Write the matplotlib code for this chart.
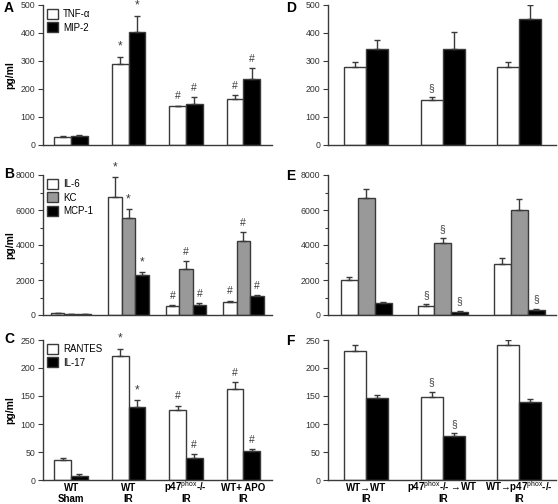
import matplotlib
matplotlib.use('Agg')
import matplotlib.pyplot as plt
import numpy as np
from matplotlib.ticker import MultipleLocator

plt.rcParams['font.family'] = ['Liberation Sans', 'DejaVu Sans']
plt.rcParams['mathtext.fontset'] = 'custom'
plt.rcParams['mathtext.rm'] = 'Liberation Sans'
plt.rcParams['mathtext.it'] = 'Liberation Sans'
plt.rcParams['mathtext.bf'] = 'Liberation Sans:bold'
plt.rcParams['mathtext.default'] = 'rm'

# ---- data (left column: 4 groups) ----
groups_left = ['WT\nSham', 'WT\nIR', 'p47$^{phox}$-/-\nIR', 'WT+ APO\nIR']
groups_right = ['WT\u2192WT\nIR', 'p47$^{phox}$-/- \u2192WT\nIR', 'WT\u2192p47$^{phox}$-/-\nIR']

# panel A
a_tnf = [29, 288, 138, 164]
a_tnf_sem = [4, 27, 3, 13]
a_tnf_mark = ['', '*', '#', '#']
a_mip2 = [33, 405, 145, 235]
a_mip2_sem = [4, 56, 26, 39]
a_mip2_mark = ['', '*', '#', '#']

# panel B
b_il6 = [90, 6720, 530, 760]
b_il6_sem = [10, 1140, 60, 60]
b_il6_mark = ['', '*', '#', '#']
b_kc = [60, 5560, 2610, 4230]
b_kc_sem = [8, 480, 490, 490]
b_kc_mark = ['', '*', '#', '#']
b_mcp1 = [30, 2290, 590, 1070]
b_mcp1_sem = [5, 150, 75, 55]
b_mcp1_mark = ['', '*', '#', '#']

# panel C
c_rantes = [35, 222, 125, 162]
c_rantes_sem = [4, 12, 8, 13]
c_rantes_mark = ['', '*', '#', '#']
c_il17 = [8, 131, 39, 52]
c_il17_sem = [2, 11, 7, 3]
c_il17_mark = ['', '*', '#', '#']

# panel D
d_tnf = [278, 162, 278]
d_tnf_sem = [18, 10, 18]
d_tnf_mark = ['', '\u00a7', '']
d_mip2 = [342, 342, 449]
d_mip2_sem = [33, 60, 50]
d_mip2_mark = ['', '', '']

# panel E
e_il6 = [1990, 530, 2930]
e_il6_sem = [190, 75, 320]
e_il6_mark = ['', '\u00a7', '']
e_kc = [6710, 4100, 6010]
e_kc_sem = [510, 290, 610]
e_kc_mark = ['', '\u00a7', '']
e_mcp1 = [660, 190, 300]
e_mcp1_sem = [60, 55, 55]
e_mcp1_mark = ['', '\u00a7', '\u00a7']

# panel F
f_rantes = [231, 149, 241]
f_rantes_sem = [10, 9, 9]
f_rantes_mark = ['', '\u00a7', '']
f_il17 = [146, 78, 140]
f_il17_sem = [6, 6, 4]
f_il17_mark = ['', '\u00a7', '']

DARK = '#3a3a3a'
W, H = 558, 504


def make_ax(fig, x0, x1, y0, y1):
    return fig.add_axes([x0 / W, 1 - y1 / H, (x1 - x0) / W, (y1 - y0) / H])


def draw(ax, series, width, ymax, major, minor, xlim, labels=None, ylabel=True,
         legend=None):
    n = len(series)
    ngroups = len(series[0][0])
    x = np.arange(ngroups)
    handles = []
    for i, (vals, sem, marks, color) in enumerate(series):
        pos = x + (i - (n - 1) / 2) * width
        b = ax.bar(pos, vals, width, color=color, edgecolor=DARK, linewidth=1.0,
                   yerr=[np.zeros(ngroups), sem], capsize=2.5,
                   error_kw=dict(ecolor=DARK, elinewidth=1.0, capthick=1.0),
                   zorder=2)
        handles.append(b)
        for xi, v, s, m in zip(pos, vals, sem, marks):
            if m:
                fs = 8.5 if m == '*' else 7.5
                ax.annotate(m, (xi, v + s), xytext=(0, 3), textcoords='offset points',
                            ha='center', va='bottom', fontsize=fs, color=DARK)
    ax.set_ylim(0, ymax)
    ax.set_xlim(*xlim)
    ax.yaxis.set_major_locator(MultipleLocator(major))
    if minor:
        ax.yaxis.set_minor_locator(MultipleLocator(minor))
    for s in ['top', 'right']:
        ax.spines[s].set_visible(False)
    for s in ['left', 'bottom']:
        ax.spines[s].set_color(DARK)
        ax.spines[s].set_linewidth(1.0)
    ax.tick_params(axis='y', which='major', length=3.5, width=0.8, color=DARK,
                   labelsize=6.3, labelcolor='#333333', pad=2)
    ax.tick_params(axis='y', which='minor', length=2, width=0.8, color=DARK)
    ax.set_xticks([])
    if labels is not None:
        # two-line group labels, each line placed on its own baseline
        tr = ax.get_xaxis_transform()
        for xi, lab in zip(x, labels):
            top, bottom = lab.split('\n')
            ax.text(xi, -11 / 140, top, transform=tr, ha='center', va='baseline',
                    fontsize=7, fontweight='bold')
            ax.text(xi, -22.5 / 140, bottom, transform=tr, ha='center', va='baseline',
                    fontsize=7, fontweight='bold')
    if ylabel:
        ax.set_ylabel('pg/ml', fontsize=7.5, fontweight='bold')
        ax.yaxis.set_label_coords(-28 / 229, 0.5)
    if legend:
        ax.legend(handles, legend, loc='upper left', frameon=False, fontsize=7,
                  handlelength=1.15, handleheight=1.15, handletextpad=0.5,
                  labelspacing=0.35, borderaxespad=0.2, borderpad=0.2)


fig = plt.figure(figsize=(W / 100, H / 100), dpi=100)

xl_left = (-0.49, 3.5)
xl_right = (-0.5, 2.48)

axA = make_ax(fig, 43, 272, 5, 145)
draw(axA, [(a_tnf, a_tnf_sem, a_tnf_mark, 'white'),
           (a_mip2, a_mip2_sem, a_mip2_mark, 'black')],
     0.29, 500, 100, None, xl_left, legend=['TNF-\u03b1', 'MIP-2'])

axB = make_ax(fig, 43, 272, 175, 315)
draw(axB, [(b_il6, b_il6_sem, b_il6_mark, 'white'),
           (b_kc, b_kc_sem, b_kc_mark, '#999999'),
           (b_mcp1, b_mcp1_sem, b_mcp1_mark, 'black')],
     0.235, 8000, 2000, 1000, xl_left, legend=['IL-6', 'KC', 'MCP-1'])

axC = make_ax(fig, 43, 272, 340, 480)
draw(axC, [(c_rantes, c_rantes_sem, c_rantes_mark, 'white'),
           (c_il17, c_il17_sem, c_il17_mark, 'black')],
     0.29, 250, 50, None, xl_left, labels=groups_left, legend=['RANTES', 'IL-17'])

axD = make_ax(fig, 328, 556, 5, 145)
draw(axD, [(d_tnf, d_tnf_sem, d_tnf_mark, 'white'),
           (d_mip2, d_mip2_sem, d_mip2_mark, 'black')],
     0.29, 500, 100, None, xl_right, ylabel=False)

axE = make_ax(fig, 328, 556, 175, 315)
draw(axE, [(e_il6, e_il6_sem, e_il6_mark, 'white'),
           (e_kc, e_kc_sem, e_kc_mark, '#999999'),
           (e_mcp1, e_mcp1_sem, e_mcp1_mark, 'black')],
     0.22, 8000, 2000, 1000, xl_right, ylabel=False)

axF = make_ax(fig, 328, 556, 340, 480)
draw(axF, [(f_rantes, f_rantes_sem, f_rantes_mark, 'white'),
           (f_il17, f_il17_sem, f_il17_mark, 'black')],
     0.29, 250, 50, None, xl_right, labels=groups_right, ylabel=False)

for letter, px, py in [('A', 4, 12), ('B', 4, 178), ('C', 4, 343),
                       ('D', 286, 12), ('E', 286, 180), ('F', 286, 345)]:
    fig.text(px / W, 1 - py / H, letter, fontsize=10, fontweight='bold')

fig.savefig('out.png', dpi=100)
